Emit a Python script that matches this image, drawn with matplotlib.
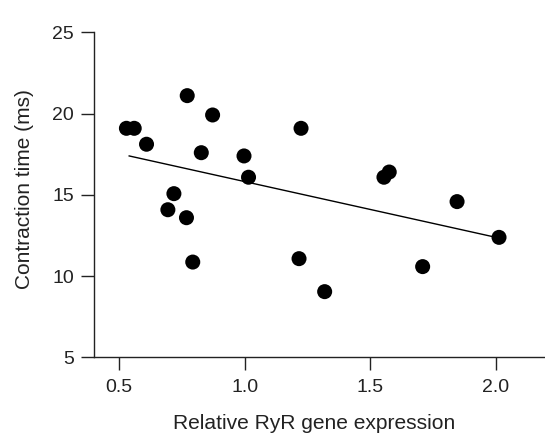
import numpy as np
import matplotlib.pyplot as plt

plt.rcParams['font.family'] = ['Liberation Sans', 'DejaVu Sans']

# relative RyR gene expression vs contraction time (ms)
ryr_expr = [0.771, 0.872, 0.529, 0.560, 0.609, 0.827, 0.997, 1.015, 0.718, 0.694,
            0.768, 0.793, 1.224, 1.554, 1.575, 1.845, 2.012, 1.216, 1.708, 1.318]
contr_time = [21.10, 19.91, 19.09, 19.09, 18.11, 17.59, 17.39, 16.08, 15.07, 14.08,
              13.59, 10.86, 19.09, 16.08, 16.40, 14.58, 12.38, 11.07, 10.58, 9.04]

# regression line end points
fit_x = [0.54, 2.0]
fit_y = [17.39, 12.38]

x_ticks = [0.5, 1.0, 1.5, 2.0]
x_ticklabels = ["0.5", "1.0", "1.5", "2.0"]
y_ticks = [5, 10, 15, 20, 25]

fig = plt.figure(figsize=(5.45, 4.36), dpi=100)
ax = fig.add_axes([0.1725, 0.1805, 0.8275, 0.7455])

ax.plot(fit_x, fit_y, color="black", lw=1.0, zorder=2)
ax.scatter(ryr_expr, contr_time, s=117, color="black", edgecolors="none", zorder=3)

ax.set_xlim(0.4, 2.195)
ax.set_ylim(5, 25)
ax.set_xticks(x_ticks)
ax.set_xticklabels(x_ticklabels)
ax.set_yticks(y_ticks)

for side in ["top", "right"]:
    ax.spines[side].set_visible(False)
for side in ["left", "bottom"]:
    ax.spines[side].set_linewidth(1.0)
    ax.spines[side].set_color("#222222")

ax.tick_params(axis="both", direction="out", length=9.4, width=1.0, color="#222222",
               labelsize=14, labelcolor="#222222")
ax.tick_params(axis="x", pad=6.5)
ax.tick_params(axis="y", pad=5)

ax.set_xlabel("Relative RyR gene expression", fontsize=15.1, color="#222222", va="baseline")
ax.xaxis.set_label_coords(0.488, -0.2206)
ax.set_ylabel("Contraction time (ms)", fontsize=15, color="#222222", va="center")
ax.yaxis.set_label_coords(-0.155, 0.518)

fig.savefig("out.png", dpi=100)
